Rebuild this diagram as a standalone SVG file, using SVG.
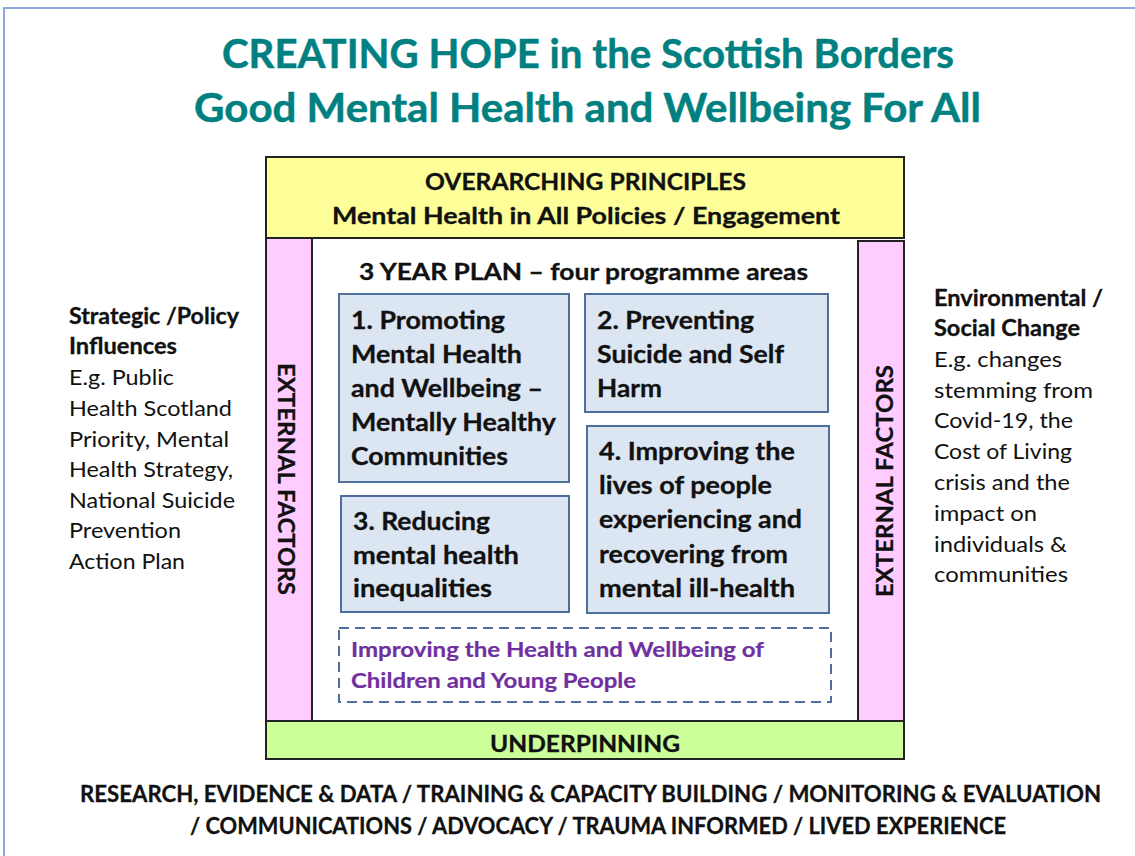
<svg xmlns="http://www.w3.org/2000/svg" width="1135" height="856" viewBox="0 0 1135 856">
<defs>
<style>
text{font-family:Lato,"Liberation Sans",sans-serif;fill:#111;}
.b{font-weight:700;}
.title{font-weight:700;font-size:41px;fill:#008080;stroke:#008080;stroke-width:0.5;}
.yel{font-weight:700;font-size:22px;stroke:#111;stroke-width:0.3;}
.box{font-weight:700;font-size:24.5px;stroke:#111;stroke-width:0.3;}
.side{font-size:22px;}
.side.b{stroke:#111;stroke-width:0.3;}
.ext{font-weight:700;font-size:23.5px;stroke:#111;stroke-width:0.3;}
.purple{font-weight:700;font-size:21px;fill:#7030A0;stroke:#7030A0;stroke-width:0.2;}
.bottom{font-weight:700;font-size:22.5px;stroke:#111;stroke-width:0.3;}
.frame{stroke:#222;stroke-width:2;}
.prog{fill:#DCE6F2;stroke:#4E6F9E;stroke-width:2;}
</style>
</defs>
<rect width="1135" height="856" fill="#fff"/>
<g id="page-frame" fill="none" stroke="#8EA9DB" stroke-width="2">
<path d="M4 856 V8 H1135"/>
</g>
<g id="title">
<text class="title" x="222" y="68" textLength="732" lengthAdjust="spacingAndGlyphs">CREATING HOPE in the Scottish Borders</text>
<text class="title" x="194" y="122" textLength="787" lengthAdjust="spacingAndGlyphs">Good Mental Health and Wellbeing For All</text>
</g>
<g id="plan-area">
<rect x="312" y="238" width="546" height="483" fill="#fff"/>
</g>
<g id="overarching">
<rect class="frame" x="266" y="157" width="638" height="81" fill="#FFFF99"/>
<text class="yel" x="425" y="190" textLength="321" lengthAdjust="spacingAndGlyphs">OVERARCHING PRINCIPLES</text>
<text class="yel" x="332" y="224" textLength="508" lengthAdjust="spacingAndGlyphs">Mental Health in All Policies / Engagement</text>
</g>
<g id="external-left">
<rect class="frame" x="266" y="238" width="46" height="483" fill="#FFCCFF"/>
<text class="ext" transform="translate(278,363) rotate(90)" x="0" y="0" textLength="232" lengthAdjust="spacingAndGlyphs">EXTERNAL FACTORS</text>
</g>
<g id="external-right">
<rect class="frame" x="858" y="241" width="46" height="482" fill="#FFCCFF"/>
<text class="ext" transform="translate(893,597) rotate(-90)" x="0" y="0" textLength="232" lengthAdjust="spacingAndGlyphs">EXTERNAL FACTORS</text>
</g>
<g id="underpinning">
<rect class="frame" x="266" y="721" width="638" height="38" fill="#CCFF99"/>
<text class="yel" x="490" y="752" font-size="23.5" textLength="190" lengthAdjust="spacingAndGlyphs">UNDERPINNING</text>
</g>
<g id="plan-heading">
<text class="yel" x="359" y="280" font-size="23.5" textLength="449" lengthAdjust="spacingAndGlyphs">3 YEAR PLAN – four programme areas</text>
</g>
<g id="programme-1">
<rect class="prog" x="339" y="294" width="230" height="188"/>
<text class="box" x="351" y="329" textLength="154" lengthAdjust="spacingAndGlyphs">1. Promoting</text>
<text class="box" x="351" y="363" textLength="171" lengthAdjust="spacingAndGlyphs">Mental Health</text>
<text class="box" x="351" y="397" textLength="192" lengthAdjust="spacingAndGlyphs">and Wellbeing –</text>
<text class="box" x="351" y="431" textLength="205" lengthAdjust="spacingAndGlyphs">Mentally Healthy</text>
<text class="box" x="351" y="465" textLength="157" lengthAdjust="spacingAndGlyphs">Communities</text>
</g>
<g id="programme-2">
<rect class="prog" x="585" y="294" width="243" height="118"/>
<text class="box" x="597" y="329" textLength="157" lengthAdjust="spacingAndGlyphs">2. Preventing</text>
<text class="box" x="597" y="363" textLength="187" lengthAdjust="spacingAndGlyphs">Suicide and Self</text>
<text class="box" x="597" y="397" textLength="65" lengthAdjust="spacingAndGlyphs">Harm</text>
</g>
<g id="programme-3">
<rect class="prog" x="341" y="496" width="228" height="116"/>
<text class="box" x="353" y="530" textLength="137" lengthAdjust="spacingAndGlyphs">3. Reducing</text>
<text class="box" x="353" y="564" textLength="166" lengthAdjust="spacingAndGlyphs">mental health</text>
<text class="box" x="353" y="597" textLength="139" lengthAdjust="spacingAndGlyphs">inequalities</text>
</g>
<g id="programme-4">
<rect class="prog" x="587" y="426" width="242" height="187"/>
<text class="box" x="599" y="460" textLength="196" lengthAdjust="spacingAndGlyphs">4. Improving the</text>
<text class="box" x="599" y="494" textLength="173" lengthAdjust="spacingAndGlyphs">lives of people</text>
<text class="box" x="599" y="528" textLength="203" lengthAdjust="spacingAndGlyphs">experiencing and</text>
<text class="box" x="599" y="563" textLength="189" lengthAdjust="spacingAndGlyphs">recovering from</text>
<text class="box" x="599" y="597" textLength="196" lengthAdjust="spacingAndGlyphs">mental ill-health</text>
</g>
<g id="children-young-people">
<rect x="339" y="628" width="492" height="74" fill="none" stroke="#4E6F9E" stroke-width="2" stroke-dasharray="10 6"/>
<text class="purple" x="351" y="657" textLength="413" lengthAdjust="spacingAndGlyphs">Improving the Health and Wellbeing of</text>
<text class="purple" x="351" y="688" textLength="285" lengthAdjust="spacingAndGlyphs">Children and Young People</text>
</g>
<g id="strategic-influences">
<text class="side b" x="69" y="324" textLength="170" lengthAdjust="spacingAndGlyphs">Strategic /Policy</text>
<text class="side b" x="69" y="354" textLength="108" lengthAdjust="spacingAndGlyphs">Influences</text>
<text class="side" x="69" y="385" textLength="105" lengthAdjust="spacingAndGlyphs">E.g. Public</text>
<text class="side" x="69" y="416" textLength="163" lengthAdjust="spacingAndGlyphs">Health Scotland</text>
<text class="side" x="69" y="447" textLength="160" lengthAdjust="spacingAndGlyphs">Priority, Mental</text>
<text class="side" x="69" y="477" textLength="164" lengthAdjust="spacingAndGlyphs">Health Strategy,</text>
<text class="side" x="69" y="508" textLength="166" lengthAdjust="spacingAndGlyphs">National Suicide</text>
<text class="side" x="69" y="538" textLength="112" lengthAdjust="spacingAndGlyphs">Prevention</text>
<text class="side" x="69" y="569" textLength="116" lengthAdjust="spacingAndGlyphs">Action Plan</text>
</g>
<g id="environmental-change">
<text class="side b" x="934" y="306" textLength="169" lengthAdjust="spacingAndGlyphs">Environmental /</text>
<text class="side b" x="934" y="336" textLength="146" lengthAdjust="spacingAndGlyphs">Social Change</text>
<text class="side" x="934" y="367" textLength="128" lengthAdjust="spacingAndGlyphs">E.g. changes</text>
<text class="side" x="934" y="398" textLength="159" lengthAdjust="spacingAndGlyphs">stemming from</text>
<text class="side" x="934" y="428" textLength="139" lengthAdjust="spacingAndGlyphs">Covid-19, the</text>
<text class="side" x="934" y="459" textLength="138" lengthAdjust="spacingAndGlyphs">Cost of Living</text>
<text class="side" x="934" y="490" textLength="136" lengthAdjust="spacingAndGlyphs">crisis and the</text>
<text class="side" x="934" y="521" textLength="103" lengthAdjust="spacingAndGlyphs">impact on</text>
<text class="side" x="934" y="552" textLength="133" lengthAdjust="spacingAndGlyphs">individuals &amp;</text>
<text class="side" x="934" y="582" textLength="134" lengthAdjust="spacingAndGlyphs">communities</text>
</g>
<g id="underpinning-themes">
<text class="bottom" x="80" y="802" textLength="1021" lengthAdjust="spacingAndGlyphs">RESEARCH, EVIDENCE &amp; DATA / TRAINING &amp; CAPACITY BUILDING / MONITORING &amp; EVALUATION</text>
<text class="bottom" x="190" y="834" textLength="816" lengthAdjust="spacingAndGlyphs">/ COMMUNICATIONS / ADVOCACY / TRAUMA INFORMED / LIVED EXPERIENCE</text>
</g>
<g id="connectors"/>
</svg>
